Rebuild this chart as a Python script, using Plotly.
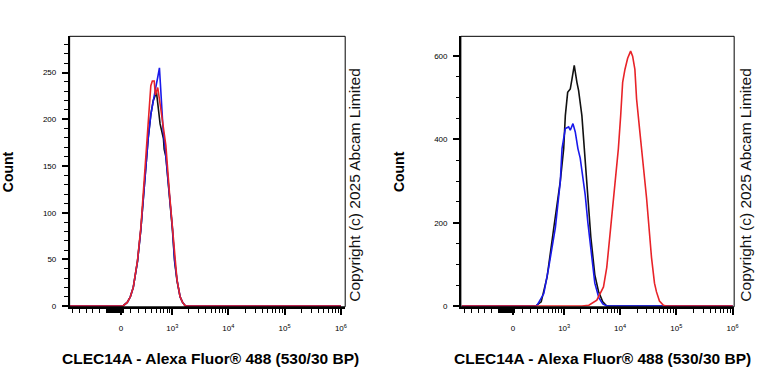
import numpy as np
import plotly.graph_objects as go

# ---------------- data (fluorescence intensity, count) ----------------
# Left panel
L_BLACK_X = [-1000, 0, 16, 64, 97, 130, 181, 225, 259, 300, 338, 385, 432, 502, 541, 591, 686, 706, 760, 893, 1004, 1100, 1218, 1385, 1534, 1733, 1e6]
L_BLACK_Y = [0, 0, 0, 4, 10, 20, 48, 82, 116, 150, 180, 205, 220, 229, 215, 195, 179, 168, 160, 117, 82, 48, 27, 10, 4, 0, 0]
L_BLUE_X = [-1000, 0, 16, 64, 97, 130, 181, 225, 259, 300, 338, 385, 432, 478, 532, 574, 599, 634, 676, 735, 893, 1004, 1100, 1218, 1385, 1534, 1733, 1e6]
L_BLUE_Y = [0, 0, 0, 4, 10, 20, 48, 82, 116, 152, 180, 205, 222, 232, 245, 255, 238, 212, 188, 170, 119, 84, 50, 28, 10, 4, 0, 0]
L_RED_X = [-1000, 0, 16, 64, 97, 130, 181, 225, 259, 300, 338, 368, 385, 414, 452, 478, 532, 610, 760, 893, 1004, 1100, 1218, 1385, 1534, 1733, 1e6]
L_RED_Y = [0, 0, 0, 4, 10, 20, 49, 84, 119, 155, 190, 215, 236, 241, 241, 226, 234, 211, 172, 119, 84, 50, 28, 10, 4, 0, 0]

# Right panel
R_BLACK_X = [-1000, 264, 357, 474, 640, 848, 979, 1049, 1157, 1290, 1385, 1522, 1700, 1824, 2087, 2295, 2562, 3017, 3550, 4132, 4922, 5795, 1e6]
R_BLACK_Y = [0, 0, 10, 70, 188, 300, 378, 457, 513, 521, 545, 578, 537, 517, 457, 378, 300, 165, 75, 35, 10, 0, 0]
R_BLUE_X = [-1000, 264, 290, 406, 510, 686, 848, 912, 1049, 1206, 1290, 1442, 1588, 1772, 1947, 2393, 2670, 3017, 3550, 4181, 4922, 5795, 1e6]
R_BLUE_Y = [0, 0, 2, 30, 93, 188, 299, 378, 426, 430, 422, 438, 418, 378, 355, 267, 200, 135, 55, 20, 5, 0, 0]
R_RED_X = [-1000, 2087, 2780, 3855, 5065, 5795, 6820, 7700, 8530, 9320, 10240, 11100, 12190, 13620, 15390, 16690, 18320, 19630, 22450, 24060, 29500, 36150, 40850, 44330, 50080, 58900, 66560, 1e6]
R_RED_Y = [0, 0, 2, 14, 46, 93, 190, 260, 330, 378, 457, 537, 568, 595, 612, 600, 568, 497, 418, 378, 260, 117, 55, 34, 12, 2, 0, 0]

X_MAJOR = [0, 1e3, 1e4, 1e5, 1e6]
X_MAJOR_TEXT = ["0", "10<sup>3</sup>", "10<sup>4</sup>", "10<sup>5</sup>", "10<sup>6</sup>"]
X_MINOR_NEG = [-160, -250, -370, -490, -670, -900]
L_Y_TICKS = [0, 50, 100, 150, 200, 250]
R_Y_TICKS = [0, 200, 400, 600]
X_TITLE = "CLEC14A - Alexa Fluor® 488 (530/30 BP)"
Y_TITLE = "Count"
COPYRIGHT = "Copyright (c) 2025 Abcam Limited"

# ---------------- biexponential-like display scale ----------------
def tf(v):
    return (np.arcsinh(np.asarray(v, dtype=float) / 250.0) / np.log(10)).tolist()

minor_vals = list(X_MINOR_NEG)
minor_vals += [-10 * k for k in range(1, 16)] + [10, 20]
minor_vals += [100 * k for k in range(1, 10)]
for dec in (1e3, 1e4, 1e5):
    minor_vals += [dec * k for k in range(2, 10)]

BLACK = "#111111"
BLUE = "rgb(25,25,235)"
RED = "rgb(232,35,40)"
FONT = "Liberation Sans, Arial, sans-serif"

fig = go.Figure()
for xs, ys, col, xa, ya in [
    (L_BLACK_X, L_BLACK_Y, BLACK, "x", "y"),
    (L_BLUE_X, L_BLUE_Y, BLUE, "x", "y"),
    (L_RED_X, L_RED_Y, RED, "x", "y"),
    (R_BLACK_X, R_BLACK_Y, BLACK, "x2", "y2"),
    (R_BLUE_X, R_BLUE_Y, BLUE, "x2", "y2"),
    (R_RED_X, R_RED_Y, RED, "x2", "y2"),
]:
    fig.add_trace(go.Scatter(x=tf(xs), y=ys, mode="lines", xaxis=xa, yaxis=ya,
                             line=dict(color=col, width=1.6), showlegend=False,
                             hoverinfo="skip"))

def xaxis(domain, rng, anchor):
    return dict(domain=domain, range=rng, anchor=anchor, tickmode="array",
                tickvals=tf(X_MAJOR), ticktext=X_MAJOR_TEXT, ticks="outside",
                ticklen=6, tickwidth=1.5, tickcolor="black", showline=True,
                linecolor="black", linewidth=1.5, showgrid=False, zeroline=False,
                tickfont=dict(size=8, color="black", family=FONT),
                ticklabelstandoff=7,
                minor=dict(tickmode="array", tickvals=tf(minor_vals), ticks="outside",
                           ticklen=4, tickwidth=1, tickcolor="black", showgrid=False))

def yaxis(domain, rng, anchor, vals, mdt):
    return dict(domain=domain, range=rng, anchor=anchor, tickmode="array",
                tickvals=vals, ticktext=[str(v) for v in vals], ticks="outside",
                ticklen=6, tickwidth=1.5, tickcolor="black", showline=True,
                linecolor="black", linewidth=1.5, showgrid=False, zeroline=False,
                tickfont=dict(size=8, color="black", family=FONT),
                ticklabelstandoff=4,
                minor=dict(dtick=mdt, tick0=0, ticks="outside", ticklen=3.5,
                           tickwidth=1, tickcolor="black", showgrid=False))

YDOM = [1 - 310 / 384, 1 - 36.7 / 384]
fig.update_layout(
    width=768, height=384, autosize=False,
    margin=dict(l=0, r=0, t=0, b=0),
    paper_bgcolor="white", plot_bgcolor="white",
    font=dict(family=FONT, color="black"),
    xaxis=xaxis([70 / 768, 347 / 768], [-0.913, 3.979], "y"),
    yaxis=yaxis(YDOM, [-0.7, 288.8], "x", L_Y_TICKS, 10),
    xaxis2=xaxis([463.3 / 768, 738 / 768], [-0.926, 3.93], "y2"),
    yaxis2=yaxis(YDOM, [-1.7, 647.5], "x2", R_Y_TICKS, 50),
)

shapes = []
for xr, yr in [("x domain", "y domain"), ("x2 domain", "y2 domain")]:
    shapes.append(dict(type="rect", xref=xr, yref=yr, x0=0, x1=1, y0=0, y1=1,
                       line=dict(color="black", width=1), layer="above"))
fig.update_layout(shapes=shapes)

ann = []
for cx in (212, 606):
    ann.append(dict(text="<b>" + X_TITLE + "</b>", x=cx / 768, y=1 - 362 / 384,
                    xref="paper", yref="paper", showarrow=False,
                    xanchor="center", yanchor="middle",
                    font=dict(size=15.5, family=FONT, color="black")))
for cx in (8, 401):
    ann.append(dict(text="<b>" + Y_TITLE + "</b>", x=cx / 768, y=1 - 173 / 384,
                    xref="paper", yref="paper", showarrow=False, textangle=-90,
                    xanchor="center", yanchor="middle",
                    font=dict(size=14, family=FONT, color="black")))
for cx in (356, 749):
    ann.append(dict(text=COPYRIGHT, x=cx / 768, y=1 - 187.5 / 384,
                    xref="paper", yref="paper", showarrow=False, textangle=-90,
                    xanchor="center", yanchor="middle",
                    font=dict(size=15.5, family=FONT, color="#111111")))
fig.update_layout(annotations=ann)

fig.write_html("out.html")
